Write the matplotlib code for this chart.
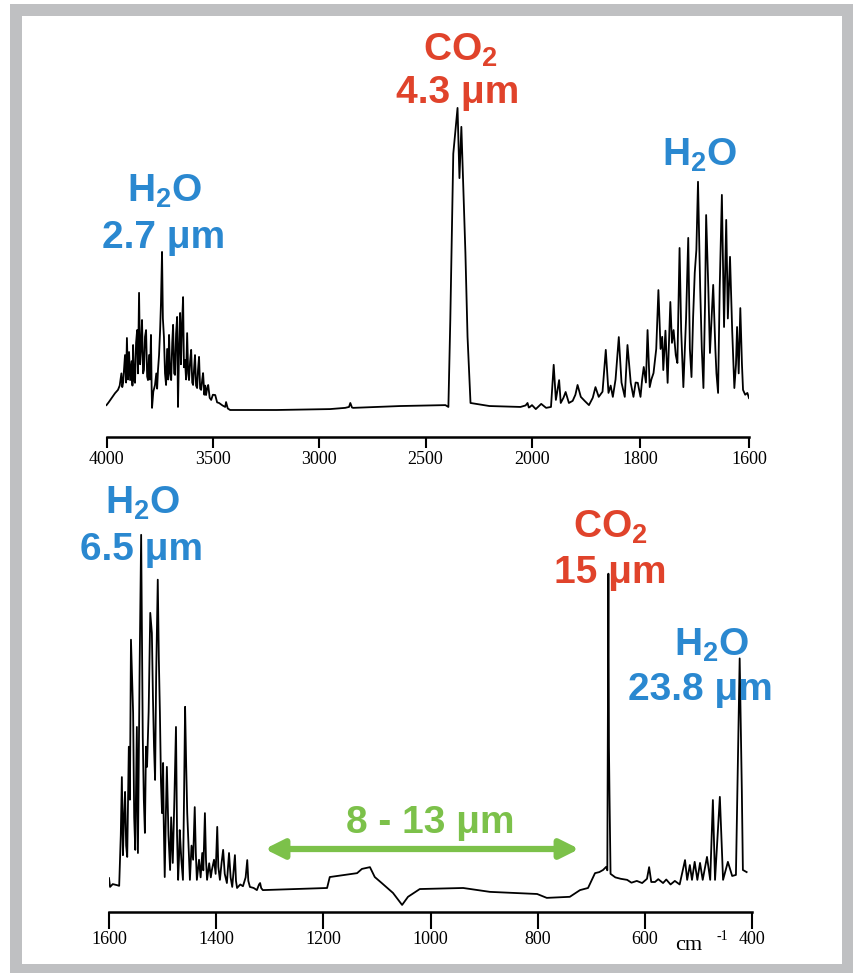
import numpy as np
import matplotlib
matplotlib.use("Agg")
import matplotlib.pyplot as plt
from matplotlib.patches import Rectangle, FancyArrowPatch
from matplotlib.ticker import NullLocator

# ---- data (wavenumber cm-1, relative absorption) ----
top_wn = [4000, 3990, 3975, 3960, 3946, 3938, 3930, 3926, 3922, 3913, 3908, 3904,
          3899, 3894, 3889, 3882, 3878, 3875, 3870, 3866, 3861, 3856, 3852, 3847,
          3842, 3838, 3833, 3828, 3824, 3819, 3814, 3809, 3805, 3800, 3796, 3791,
          3788, 3786, 3780, 3772, 3766, 3762, 3758, 3753, 3748, 3744, 3739, 3735,
          3730, 3725, 3720, 3715, 3710, 3706, 3701, 3696, 3691, 3687, 3682, 3678,
          3673, 3668, 3664, 3659, 3654, 3650, 3645, 3640, 3636, 3631, 3626, 3621,
          3616, 3612, 3607, 3602, 3597, 3593, 3588, 3584, 3579, 3574, 3570, 3565,
          3560, 3555, 3550, 3546, 3540, 3536, 3532, 3527, 3522, 3515, 3508, 3500,
          3489, 3480, 3471, 3455, 3442, 3438, 3430, 3419,
          3200, 2949, 2878, 2860, 2854, 2846, 2840, 2619, 2407, 2393, 2384,
          2370, 2350, 2341, 2332, 2313, 2303, 2289, 2200,
          2054, 2030, 2021, 2015, 2010, 2000, 1993, 1983, 1974, 1965, 1960, 1956,
          1950, 1947, 1942, 1938, 1932, 1925, 1920, 1916, 1910, 1903, 1895, 1888,
          1883, 1877, 1870, 1864, 1859, 1855, 1851, 1846, 1840, 1835, 1829, 1824,
          1818, 1813, 1809, 1805, 1800, 1797, 1794, 1790, 1787, 1783, 1780, 1776,
          1771, 1767, 1763, 1760, 1758, 1754, 1750, 1745, 1742, 1739, 1735, 1732,
          1728, 1725, 1721, 1716, 1712, 1709, 1706, 1703, 1700, 1697, 1694, 1690,
          1687, 1684, 1681, 1679, 1675, 1672, 1669, 1666, 1662, 1660, 1657, 1654,
          1650, 1646, 1642, 1639, 1635, 1631, 1627, 1624, 1622, 1619, 1616, 1613,
          1611, 1607, 1603, 1600]
top_val = [1.6, 2.5, 4.0, 5.5, 6.6, 8.0, 12.0, 7.5, 8.9, 18.0, 9.0, 23.6,
           10.0, 19.0, 9.8, 16.0, 8.0, 21.3, 10.0, 8.9, 22.0, 26.2, 12.0, 38.4,
           15.0, 19.7, 29.5, 12.0, 13.1, 24.0, 26.2, 11.0, 9.8, 18.0, 10.0, 24.6,
           8.0, 0.7, 6.0, 8.2, 12.0, 7.0, 13.1, 18.0, 26.2, 35.0, 51.8, 30.0,
           23.9, 12.0, 8.2, 20.0, 10.0, 24.6, 12.0, 9.8, 22.0, 27.9, 12.0, 11.5,
           25.0, 30.5, 1.0, 20.0, 31.8, 15.0, 28.0, 37.0, 14.0, 16.4, 10.0, 25.2,
           12.0, 9.8, 16.0, 19.7, 9.0, 8.2, 14.0, 18.0, 8.0, 7.2, 13.0, 17.4,
           7.0, 6.6, 10.0, 12.1, 5.0, 8.0, 4.9, 7.0, 8.2, 4.0, 3.3, 5.0,
           4.9, 2.5, 2.3, 1.5, 1.0, 2.6, 0.5, 0.0,
           0.0, 0.3, 0.7, 1.0, 2.3, 0.8, 0.7, 1.3, 1.6, 1.0, 29.5,
           84.0, 99.0, 76.0, 92.8, 51.5, 24.0, 2.3, 1.3,
           1.0, 1.5, 2.3, 0.8, 1.0, 1.6, 0.3, 2.0, 0.7, 1.0, 14.8, 3.3,
           9.8, 2.3, 4.0, 5.9, 2.3, 3.0, 5.0, 8.2, 4.3, 3.0, 1.6, 4.0,
           7.5, 4.3, 6.0, 19.7, 5.6, 8.0, 4.3, 10.0, 23.9, 9.0, 4.3, 21.3,
           8.9, 4.3, 9.0, 8.9, 4.3, 10.0, 14.1, 9.0, 26.2, 7.5, 10.0, 12.1,
           20.0, 39.3, 20.0, 24.0, 13.1, 26.0, 8.9, 35.4, 22.0, 26.2, 18.0, 15.4,
           53.1, 26.0, 7.5, 30.0, 56.4, 20.0, 10.8, 30.5, 45.0, 52.5, 74.8, 40.0,
           20.0, 7.2, 35.0, 63.9, 40.0, 18.7, 30.0, 41.0, 20.0, 12.0, 5.6, 40.0,
           70.5, 27.2, 62.3, 30.0, 50.2, 26.0, 7.2, 15.0, 27.2, 12.0, 33.4, 15.0,
           6.6, 5.0, 5.6, 3.9]

bot_wn = [1600, 1598, 1593, 1585, 1581, 1578, 1576, 1574, 1572, 1570, 1568, 1566,
          1563, 1561, 1559, 1557, 1555, 1553, 1551, 1548, 1546, 1543, 1540, 1538,
          1537, 1535, 1533, 1531, 1529, 1526, 1523, 1520, 1518, 1516, 1514, 1512,
          1509, 1507, 1505, 1503, 1501, 1499, 1498, 1496, 1494, 1492, 1489, 1486,
          1484, 1481, 1478, 1475, 1473, 1471, 1469, 1468, 1465, 1462, 1460, 1458,
          1456, 1454, 1451, 1449, 1446, 1443, 1440, 1438, 1436, 1432, 1429, 1426,
          1424, 1421, 1419, 1417, 1413, 1410, 1408, 1404, 1401, 1398, 1396, 1393,
          1390, 1387, 1384, 1380, 1376, 1373, 1370, 1365, 1363, 1361, 1355, 1350,
          1345, 1342, 1340, 1337, 1330, 1324, 1320, 1318, 1316, 1313,
          1193, 1188, 1137, 1128, 1113, 1104, 1091, 1070, 1053, 1042, 1020, 939,
          889, 801, 783, 740, 721, 706, 693, 685, 678, 672, 670, 668,
          667, 666, 664, 655, 645, 633, 625, 615, 605, 596, 592, 588,
          581, 575, 566, 560, 552, 544, 535, 525, 521, 516, 512, 507,
          502, 497, 492, 484, 478, 473, 469, 460, 454, 445, 437, 430,
          423, 419, 417, 410]
bot_val = [2.8, 0.3, 1.1, 0.8, 0.6, 15.0, 31.4, 9.3, 20.0, 27.2, 12.0, 8.8,
           40.0, 25.0, 70.3, 60.0, 49.6, 20.0, 10.8, 45.6, 9.9, 60.0, 100.0, 60.0,
           42.8, 25.0, 15.6, 40.0, 34.3, 50.0, 77.9, 72.2, 54.1, 40.0, 30.6, 60.0,
           87.3, 65.0, 49.6, 30.0, 21.2, 35.4, 20.0, 3.1, 20.0, 34.3, 15.0, 5.1,
           20.0, 7.1, 25.0, 45.6, 15.0, 2.3, 10.0, 16.4, 8.0, 2.3, 25.0, 51.3,
           35.0, 21.2, 10.0, 2.3, 12.0, 8.0, 22.9, 10.0, 2.3, 8.0, 3.0, 9.9,
           5.0, 21.2, 8.0, 2.3, 7.0, 3.0, 5.1, 8.0, 4.0, 17.3, 6.0, 2.3,
           7.0, 10.8, 4.0, 1.4, 9.9, 3.0, 0.3, 9.3, 2.0, 0.0, 1.0, 0.5,
           3.0, 7.9, 2.0, 0.3, 0.0, -0.6, 1.0, 1.4, 0.0, -0.6,
           0.0, 3.1, 4.2, 5.4, 5.9, 3.1, 1.4, -1.4, -4.8, -2.5, -0.3, 0.0,
           -1.1, -1.7, -2.8, -2.5, -0.6, 0.0, 4.2, 4.5, 5.1, 6.0, 5.0, 89.0,
           40.0, 27.0, 4.0, 3.0, 2.6, 2.3, 1.5, 2.0, 1.4, 2.6, 5.9, 1.7,
           1.7, 2.5, 1.4, 2.4, 1.0, 2.0, 1.0, 7.9, 2.3, 6.5, 2.3, 7.4,
           2.3, 7.1, 2.3, 8.8, 2.3, 24.9, 2.3, 25.8, 2.3, 7.4, 3.4, 3.7,
           65.0, 27.8, 5.1, 4.5]

top_ticks = [4000, 3500, 3000, 2500, 2000, 1800, 1600]
bot_ticks = [1600, 1400, 1200, 1000, 800, 600, 400]

blue = '#2a88d0'
red = '#e0432b'
green = '#7cc14a'

plt.rcParams['mathtext.fontset'] = 'custom'
plt.rcParams['mathtext.bf'] = 'Liberation Sans:bold'
plt.rcParams['mathtext.rm'] = 'Liberation Sans'

W, H = 854, 974
fig = plt.figure(figsize=(W / 100, H / 100), dpi=100)


def P(x, y):
    # pixel position (from top-left) -> figure fraction
    return x / W, 1 - y / H


# grey frame, kept behind the axes
fig.patches.append(Rectangle(P(10, 973), 843 / W, 969 / H, transform=fig.transFigure,
                             facecolor='#bfc0c2', edgecolor='none', zorder=-10))
fig.patches.append(Rectangle(P(22, 964), 820 / W, 948 / H, transform=fig.transFigure,
                             facecolor='white', edgecolor='none', zorder=-9))


def fwd(x):
    x = np.asarray(x, float)
    return np.where(x >= 2000, x, 2000 - (2000 - x) * 2.55)


def inv(y):
    y = np.asarray(y, float)
    return np.where(y >= 2000, y, 2000 - (2000 - y) / 2.55)


def style(ax, ticks, ticklen):
    ax.set_facecolor('none')
    for s in ['top', 'left', 'right']:
        ax.spines[s].set_visible(False)
    ax.spines['bottom'].set_linewidth(1.8)
    ax.set_yticks([])
    ax.set_xticks(ticks)
    ax.set_xticklabels([str(t) for t in ticks], fontfamily='Liberation Serif', fontsize=13)
    ax.xaxis.set_minor_locator(NullLocator())
    ax.tick_params(axis='x', direction='out', length=ticklen, width=1.5, pad=2)


# top panel
ax1 = fig.add_axes([106.5 / W, 1 - 437 / H, 642.5 / W, 337 / H])
ax1.set_xscale('function', functions=(fwd, inv))
ax1.plot(top_wn, top_val, color='black', lw=1.3)
ax1.set_xlim(4000, 1600)
ax1.set_ylim(-8.85, 101.6)
style(ax1, top_ticks, 8)

# bottom panel
ax2 = fig.add_axes([109 / W, 1 - 912 / H, 643 / W, 392 / H])
ax2.plot(bot_wn, bot_val, color='black', lw=1.3)
ax2.set_xlim(1600, 400)
ax2.set_ylim(-6.8, 104.2)
style(ax2, bot_ticks, 12)

fig.text(*P(689, 946), 'cm', fontfamily='Liberation Serif', fontsize=16, ha='center', va='center')
fig.text(*P(722, 937), '-1', fontfamily='Liberation Serif', fontsize=10, ha='center', va='center')

kw = dict(ha='center', va='center', fontsize=28, fontweight='bold', fontfamily='Liberation Sans')
fig.text(*P(460, 50), r'$\mathbf{CO_2}$', color=red, **kw)
fig.text(*P(458, 93), '4.3 μm', color=red, **kw)
fig.text(*P(165, 191), r'$\mathbf{H_2O}$', color=blue, **kw)
fig.text(*P(164, 238), '2.7 μm', color=blue, **kw)
fig.text(*P(700, 155), r'$\mathbf{H_2O}$', color=blue, **kw)
fig.text(*P(143, 503), r'$\mathbf{H_2O}$', color=blue, **kw)
fig.text(*P(142, 550), '6.5 μm', color=blue, **kw)
fig.text(*P(610, 527), r'$\mathbf{CO_2}$', color=red, **kw)
fig.text(*P(610, 573), '15 μm', color=red, **kw)
fig.text(*P(712, 645), r'$\mathbf{H_2O}$', color=blue, **kw)
fig.text(*P(700, 690), '23.8 μm', color=blue, **kw)
fig.text(*P(430, 823), '8 - 13 μm', color=green, **kw)

fig.add_artist(FancyArrowPatch(P(262, 849), P(582, 849), transform=fig.transFigure,
                               arrowstyle='<|-|>', mutation_scale=28,
                               color=green, lw=4.5))

fig.savefig('out.png', dpi=100)
